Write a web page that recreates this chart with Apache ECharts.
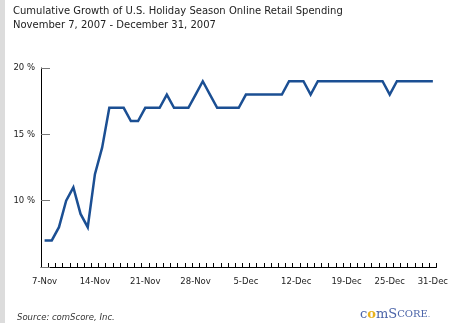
<!DOCTYPE html>
<html>
<head>
<meta charset="utf-8">
<script src="https://cdn.jsdelivr.net/npm/echarts@6/dist/echarts.min.js"></script>
<style>html,body{margin:0;padding:0;background:#fff}#c{width:451px;height:330px}</style>
</head>
<body>
<div id="c"></div>
<script>
var categories = [
 '7-Nov','8-Nov','9-Nov','10-Nov','11-Nov','12-Nov','13-Nov','14-Nov','15-Nov','16-Nov',
 '17-Nov','18-Nov','19-Nov','20-Nov','21-Nov','22-Nov','23-Nov','24-Nov','25-Nov','26-Nov',
 '27-Nov','28-Nov','29-Nov','30-Nov','1-Dec','2-Dec','3-Dec','4-Dec','5-Dec','6-Dec',
 '7-Dec','8-Dec','9-Dec','10-Dec','11-Dec','12-Dec','13-Dec','14-Dec','15-Dec','16-Dec',
 '17-Dec','18-Dec','19-Dec','20-Dec','21-Dec','22-Dec','23-Dec','24-Dec','25-Dec','26-Dec',
 '27-Dec','28-Dec','29-Dec','30-Dec','31-Dec'
];
var growth = [
 7,7,8,10,11,9,8,12,14,17,
 17,17,16,16,17,17,17,18,17,17,
 17,18,19,18,17,17,17,17,18,18,
 18,18,18,18,19,19,19,18,19,19,
 19,19,19,19,19,19,19,19,18,19,
 19,19,19,19,19
];
var shownLabels = ['7-Nov','14-Nov','21-Nov','28-Nov','5-Dec','12-Dec','19-Dec','25-Dec','31-Dec'];
var yTicks = [5,10,15,20];

var chart = echarts.init(document.getElementById('c'), null, {renderer:'canvas'});
var font = 'Verdana, "DejaVu Sans", sans-serif';
chart.setOption({
  animation:false,
  backgroundColor:'#fff',
  title:[
    {text:'Cumulative Growth of U.S. Holiday Season Online Retail Spending\nNovember 7, 2007 - December 31, 2007',
     left:13, top:5, padding:0,
     textStyle:{fontFamily:font, fontSize:10, fontWeight:'normal', color:'#222', lineHeight:13.5}},
    {text:'Source: comScore, Inc.', left:17, top:313, padding:0,
     textStyle:{fontFamily:font, fontSize:8.5, fontStyle:'italic', fontWeight:'normal', color:'#333'}}
  ],
  graphic:[
    {type:'rect', shape:{x:0,y:0,width:5,height:323}, style:{fill:'#dcdcdc'}},
    {type:'text', left:360, top:308, style:{
      text:'{b|c}{y|o}{b|m}{b|S}{s|CORE}{d|.}',
      rich:{
        b:{fontFamily:'"DejaVu Serif", serif', fontSize:13, fill:'#4a63a8', fontWeight:'normal'},
        y:{fontFamily:'"DejaVu Serif", serif', fontSize:13, fill:'#e8b21c', fontWeight:'bold'},
        s:{fontFamily:'"DejaVu Serif", serif', fontSize:10, fill:'#4a63a8'},
        d:{fontFamily:'"DejaVu Serif", serif', fontSize:8, fill:'#4a63a8'}
      }
    }}
  ],
  grid:{left:41, top:68, right:11, bottom:63, containLabel:false},
  xAxis:{
    type:'category', data:categories, boundaryGap:true,
    axisLine:{lineStyle:{color:'#000', width:1}},
    axisTick:{show:true, inside:true, length:4, interval:0, lineStyle:{color:'#000'}},
    axisLabel:{
      interval:function(i, v){ return shownLabels.indexOf(v) >= 0; },
      fontFamily:font, fontSize:8.5, color:'#222', margin:10
    },
    splitLine:{show:false}
  },
  yAxis:{
    type:'value', min:5, max:20, interval:5,
    axisLine:{show:true, lineStyle:{color:'#000', width:1}},
    axisTick:{show:true, inside:true, length:9, lineStyle:{color:'#777'}},
    axisLabel:{
      formatter:function(v){ return yTicks.indexOf(v) > 0 ? v + ' %' : ''; },
      fontFamily:font, fontSize:8.5, color:'#222', margin:6
    },
    splitLine:{show:false}
  },
  series:[{
    type:'line', data:growth, symbol:'none',
    lineStyle:{color:'#1b4f93', width:2.5, join:'miter'}
  }]
});
</script>
</body>
</html>
